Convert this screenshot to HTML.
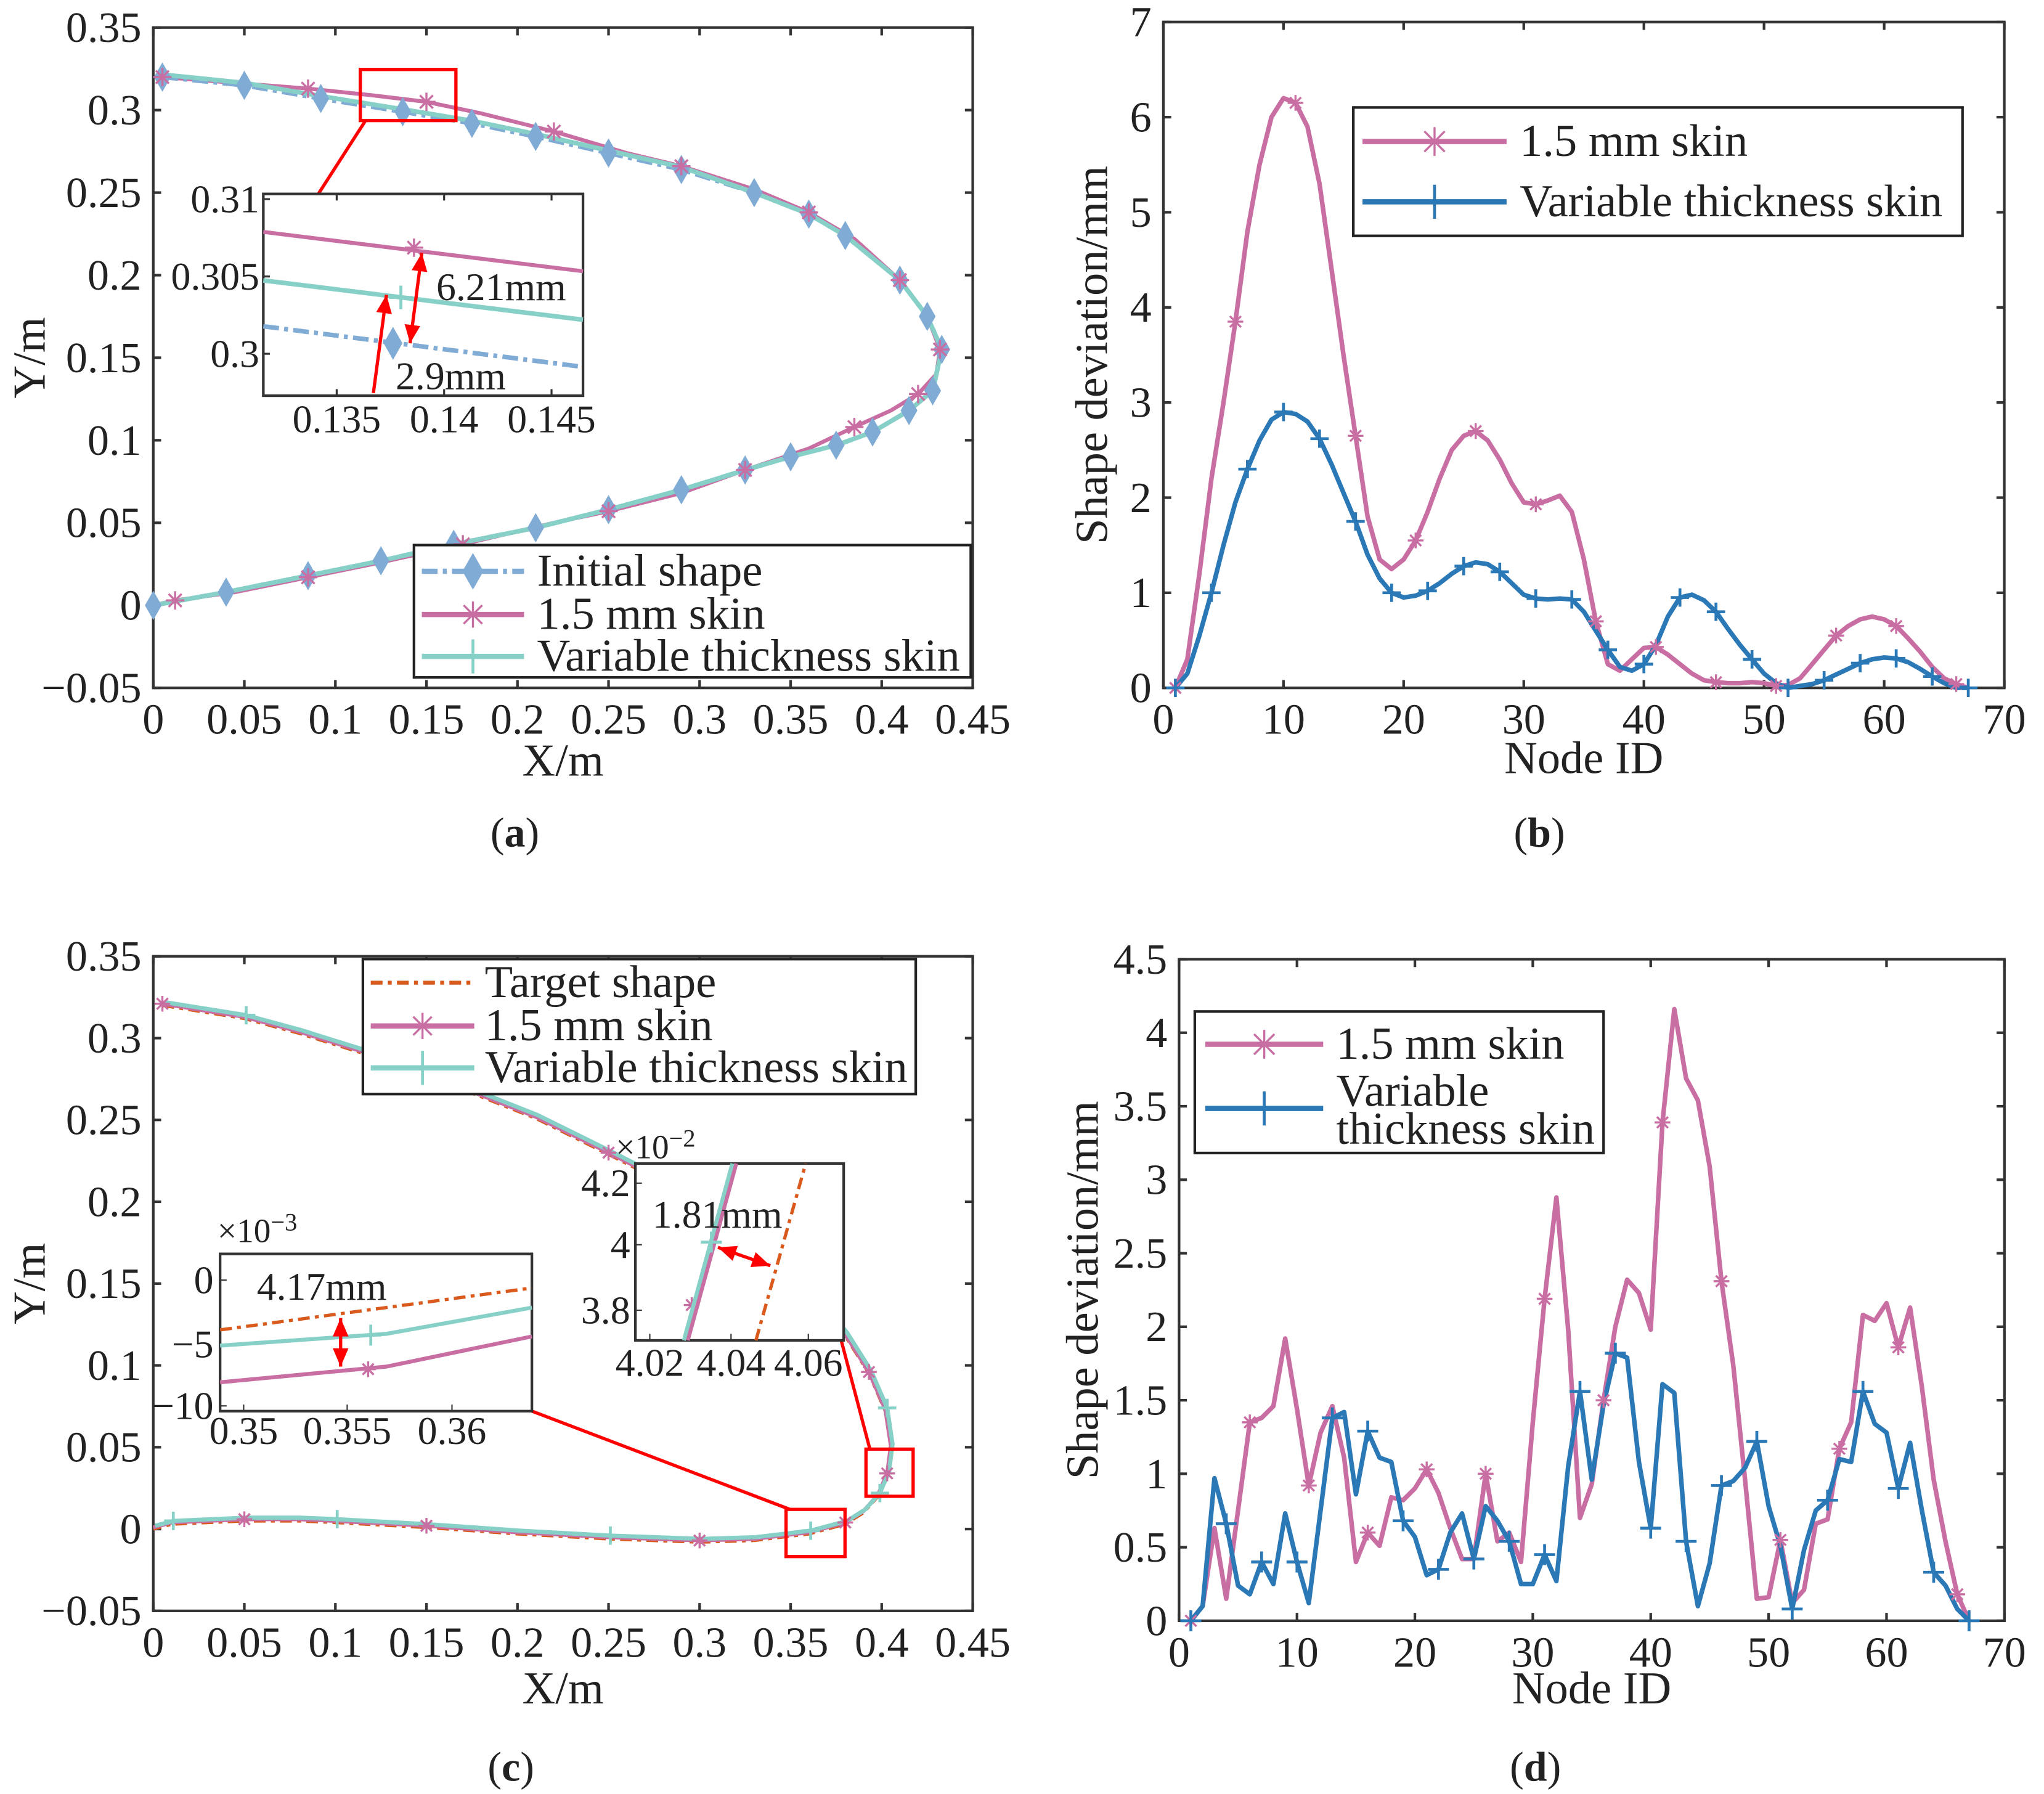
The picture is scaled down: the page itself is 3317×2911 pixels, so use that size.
<!DOCTYPE html>
<html><head><meta charset="utf-8"><style>
html,body{margin:0;padding:0;background:#fff}
svg{display:block}
text{font-family:"Liberation Serif",serif;fill:#222}
</style></head><body>
<svg id="s" width="3317" height="2911" viewBox="0 0 1560.2 1369.2" xmlns="http://www.w3.org/2000/svg">
<rect width="1561" height="1370" fill="#fff"/>
</svg>
<script>
// ---- data ----
const aInitX=[0.005,0.05,0.092,0.137,0.175,0.21,0.25,0.29,0.33,0.36,0.38,0.41,0.425,0.433,0.428,0.415,0.395,0.375,0.35,0.325,0.29,0.25,0.21,0.165,0.125,0.085,0.04,0];
const aInitY=[0.32,0.315,0.307,0.299,0.292,0.284,0.274,0.264,0.25,0.237,0.224,0.197,0.175,0.155,0.13,0.118,0.105,0.097,0.09,0.082,0.07,0.058,0.047,0.037,0.027,0.018,0.008,0];
const aPinkX=[0.005,0.05,0.085,0.12,0.15,0.18,0.22,0.26,0.29,0.33,0.36,0.385,0.41,0.425,0.432,0.43,0.42,0.405,0.385,0.36,0.325,0.29,0.25,0.22,0.17,0.125,0.085,0.045,0.012,0];
const aPinkY=[0.32,0.316,0.313,0.309,0.305,0.298,0.287,0.274,0.266,0.252,0.238,0.222,0.197,0.175,0.155,0.14,0.128,0.118,0.108,0.095,0.082,0.068,0.057,0.05,0.037,0.026,0.017,0.008,0.003,0];
const cTgtX=[0.005,0.05,0.08,0.12,0.16,0.21,0.25,0.28,0.31,0.34,0.36,0.38,0.393,0.402,0.405,0.403,0.398,0.39,0.38,0.36,0.33,0.3,0.25,0.2,0.15,0.1,0.08,0.05,0.01,0];
const cTgtY=[0.32,0.312,0.303,0.289,0.273,0.251,0.229,0.212,0.19,0.165,0.145,0.118,0.095,0.072,0.05,0.033,0.02,0.01,0.003,-0.003,-0.007,-0.008,-0.006,-0.003,0.001,0.004,0.005,0.005,0.003,0];
const bNodes=[];for(let i=1;i<=67;i++)bNodes.push(i);
const bPink=[0,0.3,1.2,2.2,3.0,3.85,4.8,5.5,6.0,6.2,6.15,5.9,5.3,4.4,3.5,2.65,1.8,1.35,1.25,1.35,1.55,1.85,2.2,2.5,2.65,2.7,2.6,2.4,2.15,1.95,1.93,1.97,2.02,1.85,1.35,0.7,0.25,0.18,0.3,0.42,0.43,0.35,0.25,0.15,0.08,0.06,0.05,0.05,0.06,0.05,0.02,0.03,0.1,0.25,0.4,0.55,0.65,0.72,0.75,0.72,0.65,0.52,0.38,0.22,0.1,0.04,0];
const bBlue=[0,0.15,0.55,1.0,1.5,1.95,2.3,2.6,2.82,2.9,2.88,2.8,2.62,2.35,2.05,1.75,1.4,1.15,1.0,0.95,0.97,1.02,1.1,1.2,1.28,1.32,1.3,1.22,1.1,0.98,0.94,0.93,0.94,0.93,0.8,0.6,0.4,0.22,0.18,0.25,0.45,0.75,0.95,0.98,0.92,0.8,0.62,0.45,0.3,0.15,0.05,0,0.02,0.04,0.08,0.14,0.2,0.26,0.3,0.32,0.31,0.27,0.2,0.12,0.05,0,0];
const dPink=[0,0.1,0.63,0.15,0.75,1.35,1.38,1.46,1.92,1.44,0.92,1.28,1.46,1.11,0.4,0.6,0.51,0.84,0.82,0.9,1.03,0.87,0.63,0.42,0.42,1.0,0.54,0.6,0.4,1.35,2.19,2.88,1.98,0.7,0.93,1.5,2.0,2.32,2.23,1.98,3.39,4.16,3.69,3.54,3.09,2.31,1.74,0.96,0.15,0.16,0.55,0.12,0.21,0.66,0.69,1.17,1.35,2.08,2.04,2.16,1.86,2.13,1.59,0.96,0.54,0.18,0];
const dBlue=[0,0.1,0.97,0.66,0.24,0.18,0.4,0.25,0.73,0.4,0.12,0.75,1.38,1.42,0.86,1.29,1.11,1.08,0.68,0.57,0.31,0.35,0.6,0.73,0.42,0.78,0.68,0.54,0.25,0.25,0.45,0.27,1.05,1.56,0.96,1.47,1.82,1.79,1.08,0.63,1.61,1.55,0.54,0.1,0.39,0.92,0.95,1.04,1.22,0.78,0.51,0.08,0.48,0.75,0.82,1.1,1.08,1.56,1.34,1.28,0.9,1.21,0.75,0.33,0.24,0.08,0];
const xTicksA=[0,0.05,0.1,0.15,0.2,0.25,0.3,0.35,0.4,0.45];
const yTicksA=[-0.05,0,0.05,0.1,0.15,0.2,0.25,0.3,0.35];
const xTicksB=[0,10,20,30,40,50,60,70];
const yTicksB=[0,1,2,3,4,5,6,7];
const yTicksD=[0,0.5,1,1.5,2,2.5,3,3.5,4,4.5];

const S=document.getElementById('s');const NS='http://www.w3.org/2000/svg';
function el(t,a,p){const e=document.createElementNS(NS,t);for(const k in a)e.setAttribute(k,a[k]);(p||S).appendChild(e);return e;}
function txt(s,x,y,sz,anchor,p,extra){const e=el('text',Object.assign({x:x,y:y,'font-size':sz,'text-anchor':anchor||'middle'},extra||{}),p);e.textContent=s;return e;}
const PINK='#c86ea3',TEAL='#86d0c7',LBLUE='#7fabd4',BLUE='#2b78b6',ORANGE='#d95a1c',RED='#f00';
const TFS=33,AFS=35,LFS=35,IFS=30;
function fmt(v){let s=String(+v.toFixed(4));return v<0?'\u2212'+s.slice(1):s;}
function axes(name,X,Y,x0,x1,y0,y1,xt,yt,xlab,ylab,xly,ylx){
  const g=el('g',{});
  
  
  el('rect',{x:X(x0),y:Y(y1),width:X(x1)-X(x0),height:Y(y0)-Y(y1),fill:'none',stroke:'#333','stroke-width':2},g);
  xt.forEach(v=>{const x=X(v);el('line',{x1:x,x2:x,y1:Y(y0),y2:Y(y0)-6,stroke:'#333','stroke-width':2},g);el('line',{x1:x,x2:x,y1:Y(y1),y2:Y(y1)+6,stroke:'#333','stroke-width':2},g);
    const t=txt(fmt(v),x,Y(y0)+35,TFS,'middle',g);});
  yt.forEach(v=>{const y=Y(v);el('line',{x1:X(x0),x2:X(x0)+6,y1:y,y2:y,stroke:'#333','stroke-width':2},g);el('line',{x1:X(x1),x2:X(x1)-6,y1:y,y2:y,stroke:'#333','stroke-width':2},g);
    const t=txt(fmt(v),X(x0)-9,y+11,TFS,'end',g);});
  const a=txt(xlab,(X(x0)+X(x1))/2,xly,AFS,'middle',g);
  const b=txt(ylab,ylx,(Y(y0)+Y(y1))/2,AFS,'middle',g,{transform:`rotate(-90 ${ylx} ${(Y(y0)+Y(y1))/2})`});
  return g;
}
function poly(xs,ys,X,Y,col,w,dash,p,name){const pts=xs.map((x,i)=>X(x).toFixed(1)+','+Y(ys[i]).toFixed(1)).join(' ');
  const e=el('polyline',{points:pts,fill:'none',stroke:col,'stroke-width':w,'stroke-linejoin':'round','stroke-dasharray':dash||'none'},p);
  return e;}
function mk(type,x,y,col,r,p){
  const g=el('g',{stroke:col,'stroke-width':1.6,fill:col},p);
  
  if(type==='star'){for(const a of [0,45,90,135]){const c=Math.cos(a*Math.PI/180)*r,s=Math.sin(a*Math.PI/180)*r;el('line',{x1:x-c,y1:y-s,x2:x+c,y2:y+s},g);}}
  else if(type==='plus'){el('line',{x1:x-r,y1:y,x2:x+r,y2:y,'stroke-width':2.2},g);el('line',{x1:x,y1:y-r,x2:x,y2:y+r,'stroke-width':2.2},g);}
  else if(type==='diamond'){el('polygon',{points:`${x},${y-r*1.4} ${x+r*0.8},${y} ${x},${y+r*1.4} ${x-r*0.8},${y}`,stroke:'none'},g);}
}
function caption(letter,x,y){const t=el('text',{x:x,y:y,'font-size':32,'text-anchor':'middle'});t.innerHTML='(<tspan font-weight="bold">'+letter+'</tspan>)';}
function legend(name,x,y,w,h,items,fs,lx1,lx2,tx){const g=el('g',{});
  el('rect',{x:x,y:y,width:w,height:h,fill:'#fff',stroke:'#222','stroke-width':2},g);
  items.forEach(it=>{el('line',{x1:lx1,x2:lx2,y1:it.y,y2:it.y,stroke:it.c,'stroke-width':it.w||4,'stroke-dasharray':it.d||'none'},g);mk(it.m,(lx1+lx2)/2,it.y,it.c,it.r||11,g);
    it.t.forEach((s,k)=>{const e=txt(s,tx,it.ty+k*29,fs,'start',g);});});}
function redArrow(x1,y1,x2,y2,both,p){const g=el('g',{},p);
  el('line',{x1:x1,y1:y1,x2:x2,y2:y2,stroke:RED,'stroke-width':2.5},g);
  const head=(ax,ay,bx,by)=>{const d=Math.hypot(ax-bx,ay-by),ux=(ax-bx)/d,uy=(ay-by)/d,L=14,W=6;
    el('polygon',{points:`${ax},${ay} ${ax-ux*L-uy*W},${ay-uy*L+ux*W} ${ax-ux*L+uy*W},${ay-uy*L-ux*W}`,fill:RED},g);};
  head(x2,y2,x1,y1);if(both)head(x1,y1,x2,y2);}

// ===== Panel (a) =====
{const X=v=>117+v*1390,Y=v=>462-v*1260;
 axes('panel-a-axes',X,Y,0,0.45,-0.05,0.35,xTicksA,yTicksA,'X/m','Y/m',592,34);
 const g=el('g',{});
 poly(aPinkX,aPinkY,X,Y,PINK,3,null,g,'pink-1.5mm-series');
 poly(aInitX,aInitY,X,Y,LBLUE,3.5,'12 4 3 4',g,'initial-shape-series');
 poly(aInitX,aInitY.map((y,i)=>y+0.0015*(aInitY[i]>0.2&&aInitX[i]<0.3?1:0)),X,Y,TEAL,3.5,null,g,'variable-thickness-series');
 aInitX.forEach((x,i)=>{mk('diamond',X(x),Y(aInitY[i]),LBLUE,8,g);});
 aPinkX.forEach((x,i)=>{if(i%2===0)mk('star',X(x),Y(aPinkY[i]),PINK,7,g);});
 el('rect',{x:275,y:53,width:73,height:39,fill:'none',stroke:RED,'stroke-width':2.5},g);
 el('line',{x1:279,y1:92,x2:243,y2:148,stroke:RED,'stroke-width':2.5},g);
 const ig=el('g',{});
 const IX=v=>257+(v-0.135)*16400,IY=v=>270-(v-0.3)*11800;
 el('rect',{x:201,y:148,width:244,height:154,fill:'#fff',stroke:'#333','stroke-width':2},ig);
 [0.135,0.14,0.145].forEach(v=>{el('line',{x1:IX(v),x2:IX(v),y1:302,y2:297,stroke:'#333','stroke-width':1.5},ig);el('line',{x1:IX(v),x2:IX(v),y1:148,y2:153,stroke:'#333','stroke-width':1.5},ig);txt(String(v),IX(v),330,IFS,'middle',ig);});
 [0.3,0.305,0.31].forEach(v=>{el('line',{x1:201,x2:206,y1:IY(v),y2:IY(v),stroke:'#333','stroke-width':1.5},ig);txt(String(v),198,IY(v)+10,IFS,'end',ig);});
 el('line',{x1:201,y1:177,x2:445,y2:207,stroke:PINK,'stroke-width':3},ig);mk('star',316,189,PINK,7,ig);
 el('line',{x1:201,y1:214,x2:445,y2:244,stroke:TEAL,'stroke-width':3.5},ig);mk('plus',306,227,TEAL,9,ig);
 el('line',{x1:201,y1:249,x2:445,y2:280,stroke:LBLUE,'stroke-width':3.5,'stroke-dasharray':'12 4 3 4'},ig);mk('diamond',300,262,LBLUE,9,ig);
 redArrow(322,193,313,262,true,ig);redArrow(285,300,295,225,false,ig);
 txt('6.21mm',333,229,IFS,'start',ig);txt('2.9mm',302,297,IFS,'start',ig);
 legend('panel-a-legend',316,416,425,101,[{y:436,ty:447,c:LBLUE,m:'diamond',d:'12 4 3 4',r:10,t:['Initial shape']},{y:469,ty:480,c:PINK,m:'star',r:10,t:['1.5 mm skin']},{y:501,ty:512,c:TEAL,m:'plus',r:13,t:['Variable thickness skin']}],LFS,322,400,410);
 caption('a',393,646);}

// ===== Panel (b) =====
{const X=v=>888+v*9.17,Y=v=>525-v*72.6;
 axes('panel-b-axes',X,Y,0,70,0,7,xTicksB,yTicksB,'Node ID','Shape deviation/mm',590,845);
 const g=el('g',{});
 poly(bNodes,bPink,X,Y,PINK,3.5,null,g,'pink-1.5mm-series');
 poly(bNodes,bBlue,X,Y,BLUE,3.5,null,g,'blue-variable-series');
 bNodes.forEach((n,i)=>{if(i%5===0)mk('star',X(n),Y(bPink[i]),PINK,6,g);if(i%3===0)mk('plus',X(n),Y(bBlue[i]),BLUE,7,g);});
 legend('panel-b-legend',1033,82,465,98,[{y:108,ty:119,c:PINK,m:'star',r:11,t:['1.5 mm skin']},{y:154,ty:165,c:BLUE,m:'plus',r:13,t:['Variable thickness skin']}],LFS,1040,1150,1160);
 caption('b',1175,646);}

// ===== Panel (c) =====
{const X=v=>117+v*1390,Y=v=>1167-v*1249;
 axes('panel-c-axes',X,Y,0,0.45,-0.05,0.35,xTicksA,yTicksA,'X/m','Y/m',1300,34);
 const g=el('g',{});
 poly(cTgtX,cTgtY,X,Y,ORANGE,2.5,'9 4 3 4',g,'target-shape-series');
 poly(cTgtX,cTgtY.map(y=>y+0.001),X,Y,PINK,3,null,g,'pink-1.5mm-series');
 poly(cTgtX.map(x=>x+0.001),cTgtY.map(y=>y+0.002),X,Y,TEAL,3.2,null,g,'variable-thickness-series');
 cTgtX.forEach((x,i)=>{if(i%3===0)mk('star',X(x),Y(cTgtY[i]+0.001),PINK,6,g);if(i%3===1)mk('plus',X(x+0.001),Y(cTgtY[i]+0.002),TEAL,7,g);});
 el('rect',{x:600,y:1152,width:45,height:36,fill:'none',stroke:RED,'stroke-width':2.5},g);
 el('rect',{x:661,y:1106,width:36,height:36,fill:'none',stroke:RED,'stroke-width':2.5},g);
 el('line',{x1:406,y1:1077,x2:603,y2:1152,stroke:RED,'stroke-width':2.5},g);
 el('line',{x1:640,y1:1015,x2:664,y2:1106,stroke:RED,'stroke-width':2.5},g);
 const ig=el('g',{});
 el('rect',{x:168,y:957,width:238,height:120,fill:'#fff',stroke:'#333','stroke-width':2},ig);
 [[186,'0.35'],[265,'0.355'],[345,'0.36']].forEach(([x,s])=>{el('line',{x1:x,x2:x,y1:1077,y2:1072,stroke:'#333'},ig);txt(s,x,1102,IFS,'middle',ig);});
 [[977,'0'],[1026,'\u22125'],[1073,'\u221210']].forEach(([y,s])=>{el('line',{x1:168,x2:173,y1:y,y2:y,stroke:'#333'},ig);txt(s,163,y+10,IFS,'end',ig);});
 const e3=el('text',{x:166,y:948,'font-size':26},ig);e3.innerHTML='×10<tspan dy="-9" font-size="19">−3</tspan>';
 el('line',{x1:168,y1:1015,x2:406,y2:983,stroke:ORANGE,'stroke-width':2.5,'stroke-dasharray':'9 4 3 4'},ig);
 el('polyline',{points:'168,1027 295,1018 406,998',fill:'none',stroke:TEAL,'stroke-width':3},ig);mk('plus',283,1019,TEAL,8,ig);
 el('polyline',{points:'168,1055 295,1043 406,1020',fill:'none',stroke:PINK,'stroke-width':3},ig);mk('star',281,1045,PINK,6,ig);
 redArrow(260,1006,260,1043,true,ig);txt('4.17mm',196,992,IFS,'start',ig);
 const jg=el('g',{});
 el('rect',{x:485,y:888,width:159,height:135,fill:'#fff',stroke:'#333','stroke-width':2},jg);
 [[496,'4.02'],[558,'4.04'],[617,'4.06']].forEach(([x,s])=>{el('line',{x1:x,x2:x,y1:1023,y2:1018,stroke:'#333'},jg);txt(s,x,1050,IFS,'middle',jg);});
 [[903,'4.2'],[950,'4'],[1000,'3.8']].forEach(([y,s])=>{el('line',{x1:485,x2:490,y1:y,y2:y,stroke:'#333'},jg);txt(s,481,y+10,IFS,'end',jg);});
 const e2=el('text',{x:470,y:884,'font-size':26},jg);e2.innerHTML='×10<tspan dy="-9" font-size="19">−2</tspan>';
 el('line',{x1:577,y1:1023,x2:615,y2:888,stroke:ORANGE,'stroke-width':2.5,'stroke-dasharray':'9 4 3 4'},jg);
 el('line',{x1:525,y1:1023,x2:562,y2:888,stroke:PINK,'stroke-width':3},jg);mk('star',528,996,PINK,6,jg);
 el('line',{x1:522,y1:1023,x2:559,y2:888,stroke:TEAL,'stroke-width':3},jg);mk('plus',543,948,TEAL,8,jg);
 redArrow(548,952,588,966,true,jg);txt('1.81mm',498,937,IFS,'start',jg);
 legend('panel-c-legend',277,732,422,103,[{y:750,ty:761,c:ORANGE,m:'none',w:3,d:'9 4 3 4',t:['Target shape']},{y:783,ty:794,c:PINK,m:'star',r:10,t:['1.5 mm skin']},{y:815,ty:826,c:TEAL,m:'plus',r:13,t:['Variable thickness skin']}],LFS,283,362,370);
 caption('c',390,1359);}

// ===== Panel (d) =====
{const X=v=>900+v*9.0,Y=v=>1237-v*112.2;
 axes('panel-d-axes',X,Y,0,70,0,4.5,xTicksB,yTicksD,'Node ID','Shape deviation/mm',1300,838);
 const g=el('g',{});
 poly(bNodes,dPink,X,Y,PINK,3.5,null,g,'pink-1.5mm-series');
 poly(bNodes,dBlue,X,Y,BLUE,3.5,null,g,'blue-variable-series');
 bNodes.forEach((n,i)=>{if(i%5===0)mk('star',X(n),Y(dPink[i]),PINK,6,g);if(i%3===0)mk('plus',X(n),Y(dBlue[i]),BLUE,8,g);});
 legend('panel-d-legend',912,772,312,108,[{y:797,ty:808,c:PINK,m:'star',r:11,t:['1.5 mm skin']},{y:846,ty:844,c:BLUE,m:'plus',r:13,t:['Variable','thickness skin']}],LFS,920,1010,1020);
 caption('d',1172,1359);}
</script>
</body></html>
